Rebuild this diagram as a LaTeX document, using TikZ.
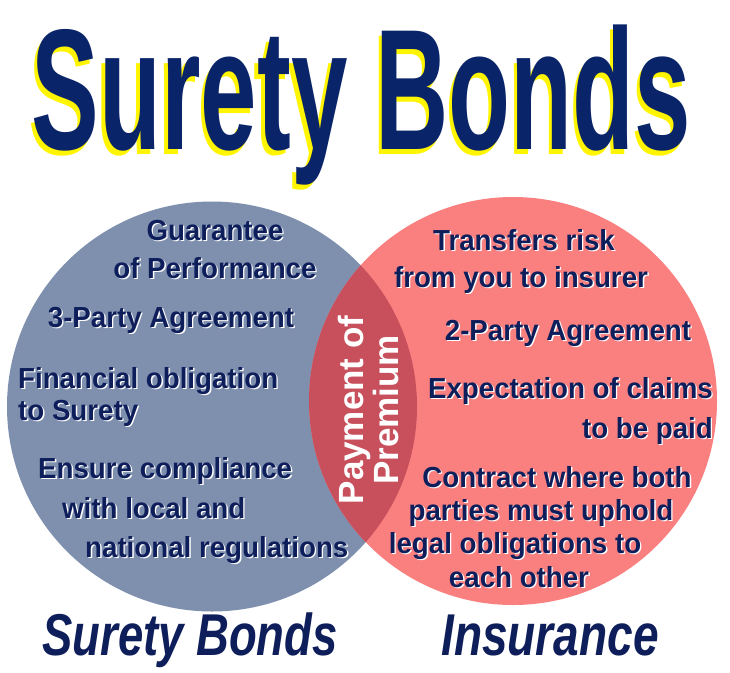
\documentclass[tikz,border=0pt]{standalone}
\usepackage{fontspec}
\setmainfont{Liberation Sans}
\definecolor{navy}{RGB}{14,30,90}
\definecolor{titlenavy}{RGB}{10,36,106}
\definecolor{bluecirc}{RGB}{127,144,175}
\definecolor{redcirc}{RGB}{250,128,128}
\definecolor{lenscol}{RGB}{199,80,92}
\definecolor{shyellow}{RGB}{255,245,0}
\newcommand{\whsh}[1]{\scalebox{0.955}[1]{\rlap{\kern1.4pt\raisebox{-1.4pt}{\color{white}#1}}#1}}
\newcommand{\ylsh}[1]{\rlap{\kern-6pt\raisebox{-5pt}{\color{shyellow}#1}}#1}
\begin{document}
\begin{tikzpicture}[x=1pt,y=-1pt,
  item/.style={inner sep=0pt, text=navy, font=\fontsize{29}{30}\selectfont\bfseries},
  lbl/.style={inner sep=0pt, text=navy, font=\fontsize{59}{60}\selectfont\bfseries\itshape},
  ttl/.style={inner sep=0pt, text=titlenavy, font=\fontsize{172}{172}\selectfont\bfseries},
  pay/.style={inner sep=0pt, text=white, font=\fontsize{35}{35}\selectfont\bfseries, align=center, rotate=90}]
\useasboundingbox (0,0) rectangle (730,672);
\fill[white] (0,0) rectangle (730,672);
% circles
\fill[bluecirc] (212,406.5) circle (205pt);
\fill[redcirc] (513,401) circle (204pt);
\begin{scope}
  \clip (212,406.5) circle (205pt);
  \fill[lenscol] (513,401) circle (204pt);
\end{scope}
% title
\node[ttl, anchor=base] (title) at (361.5,149) {\scalebox{0.59}[1]{\ylsh{Surety Bonds}}};
% left circle texts
\node[item, anchor=base] (g1) at (215,240) {\whsh{Guarantee}};
\node[item, anchor=base] (g2) at (215,278) {\whsh{of Performance}};
\node[item, anchor=base] (l2) at (171,327) {\whsh{3-Party Agreement}};
\node[item, anchor=base west] (l3a) at (18,388) {\whsh{Financial obligation}};
\node[item, anchor=base west] (l3b) at (18,420) {\whsh{to Surety}};
\node[item, anchor=base west] (l4a) at (38,478) {\whsh{Ensure compliance}};
\node[item, anchor=base west] (l4b) at (62,518) {\whsh{with local and}};
\node[item, anchor=base west] (l4c) at (85,557) {\whsh{national regulations}};
% right circle texts
\node[item, anchor=base] (r1a) at (524,250) {\whsh{Transfers risk}};
\node[item, anchor=base] (r1b) at (521,287) {\whsh{from you to insurer}};
\node[item, anchor=base] (r2) at (568,340) {\whsh{2-Party Agreement}};
\node[item, anchor=base east] (r3a) at (713,398) {\whsh{Expectation of claims}};
\node[item, anchor=base east] (r3b) at (713,438) {\whsh{to be paid}};
\node[item, anchor=base] (r4a) at (557,487) {\whsh{Contract where both}};
\node[item, anchor=base] (r4b) at (541,520) {\whsh{parties must uphold}};
\node[item, anchor=base] (r4c) at (515,553) {\whsh{legal obligations to}};
\node[item, anchor=base] (r4d) at (519,587) {\whsh{each other}};
% overlap
\node[pay] (pay) at (368,410) {Payment of\\Premium};
% bottom labels
\node[lbl, anchor=base] (lblS) at (190,655) {\scalebox{0.77}[1]{Surety Bonds}};
\node[lbl, anchor=base] (lblI) at (550,655) {\scalebox{0.78}[1]{Insurance}};
\end{tikzpicture}
\end{document}
